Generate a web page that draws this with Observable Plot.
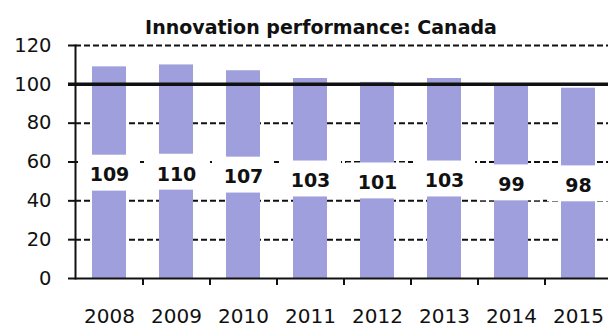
<!DOCTYPE html>
<html><head><meta charset="utf-8">
<script src="https://cdn.jsdelivr.net/npm/d3@7"></script>
<script src="https://cdn.jsdelivr.net/npm/@observablehq/plot@0.6"></script>
<style>
body{margin:0;background:#fff;overflow:hidden;width:608px;height:327px}
#title{height:34px;box-sizing:border-box;padding-top:18px;padding-left:34px;text-align:center;font:bold 19px "DejaVu Sans";line-height:18px;color:#111;white-space:nowrap}
</style></head><body>
<div id="title">Innovation performance: Canada</div>
<div id="chart"></div>
<script>
const years = ["2008","2009","2010","2011","2012","2013","2014","2015"];
const values = [109,110,107,103,101,103,99,98];
const yTicks = [0,20,40,60,80,100,120];
const gridTicks = [20,40,60,80,120];
const referenceLine = [100];
const boundaryYears = years.slice(1);

const data = years.map((year, i) => ({year, value: values[i]}));
const xRange = [75, 611];
const step = (xRange[1] - xRange[0]) / years.length;
const font = "DejaVu Sans";

const chart = Plot.plot({
  width: 608,
  height: 293,
  marginTop: 11,
  marginBottom: 49,
  marginLeft: 75,
  marginRight: 0,
  style: {fontFamily: font, color: "#111", background: "white", overflow: "visible"},
  x: {type: "band", domain: years, range: xRange, paddingInner: 0.5, paddingOuter: 0.25, label: null},
  y: {domain: [0, 120], label: null},
  marks: [
    Plot.ruleY(gridTicks, {stroke: "#111", strokeWidth: 2, strokeDasharray: "6,3"}),
    Plot.barY(data, {x: "year", y: "value", fill: "#9e9fdc"}),
    Plot.barY(data, {x: "year", y1: d => d.value / 2 - 9.5, y2: d => d.value / 2 + 9, fill: "white", insetLeft: -14, insetRight: -14}),
    Plot.text(data, {x: "year", y: d => d.value / 2 - 1.4, text: d => String(d.value), fontWeight: "bold", fontSize: 19, fill: "#111"}),
    Plot.ruleY(referenceLine, {stroke: "#111", strokeWidth: 3.5, insetLeft: -7}),
    Plot.ruleY([0], {stroke: "#111", strokeWidth: 2}),
    Plot.frame({anchor: "left", stroke: "#111", strokeWidth: 2}),
    Plot.ruleX(boundaryYears, {x: d => d, dx: -step / 2, y1: 0, y2: 0, insetBottom: -7, stroke: "#111", strokeWidth: 2}),
    Plot.axisY(yTicks, {tickSize: 7, tickPadding: 17, fontSize: 19.5, stroke: "#111", strokeWidth: 2, fill: "#111", label: null}),
    Plot.axisX({tickSize: 0, tickPadding: 30, fontSize: 20, fill: "#111", label: null})
  ]
});
document.getElementById("chart").appendChild(chart);
</script>
</body></html>
